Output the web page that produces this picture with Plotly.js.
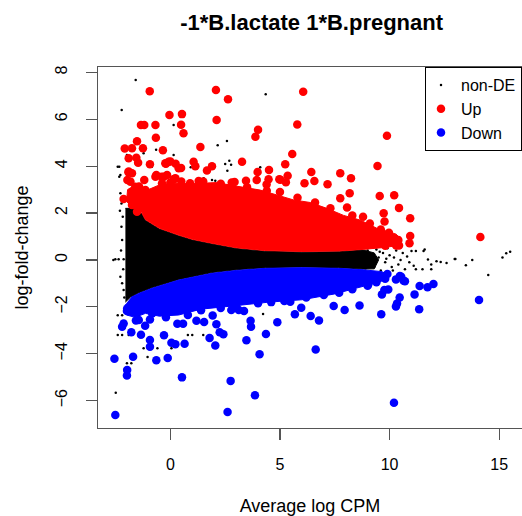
<!DOCTYPE html>
<html>
<head>
<meta charset="utf-8">
<script src="https://cdn.plot.ly/plotly-3.0.1.min.js"></script>
<style>
  html, body { margin: 0; padding: 0; background: #fff; }
  #chart { width: 522px; height: 516px; }
</style>
</head>
<body>
<div id="chart"></div>
<script>
// MA plot (edgeR plotSmear 스타일): x = Average log CPM, y = log-fold-change.
const C = { up: '#ff0000', down: '#0000ff', nonDE: '#000000', axis: '#555555', text: '#000000' };
const FONT = '"Liberation Sans", Arial, sans-serif';

// 값은 그림에서 읽은 추정치. 밀집 구름은 외곽선(core) 폴리곤, 나머지는 개별 점.
// non-DE core 는 Up/Down core 사이 띠만 (fill 레이어 순서에 의존하지 않도록 겹치지 않게).
const nonDeCoreX = [-2.05, -1.6, -1.3, -1.14, -0.5, 0.38, 1.0, 1.9, 3.0, 4.3, 6.0, 7.7, 8.8, 9.3, 9.5,
  9.3, 8.8, 7.68, 6.0, 4.33, 3.0, 1.9, 0.38, -0.83, -1.44, -1.8, -2.05];
const nonDeCoreY = [2.2, 2.2, 1.97, 1.69, 1.32, 1.03, 0.85, 0.68, 0.49, 0.37, 0.33, 0.35, 0.42, 0.3, 0.0,
  -0.38, -0.39, -0.33, -0.30, -0.33, -0.42, -0.54, -0.83, -1.18, -1.40, -1.57, -1.8];

const nonDeX = [-1.58, -2.22, 4.35, 0.15, 2.58, 2.16, -0.65, 0.15, 2.5, 2.69, 2.77, 2.6, 4.1, 1.52, 1.9, 2.05, 1.19, 0.93,
  -2.4, -2.33, -2.28, -2.23, -1.98, -1.22, -0.84, -2.33, -2.28, -1.97,
  -2.51, -2.36, -2.13, -1.97, -2.6, -2.28, -2.2, -2.13, -2.2, -2.23, -2.17, -2.25, -2.15, -2.3, -2.1,
  -2.49, -2.4, -2.2, -1.6, -1.45, -2.4, -2.2, -1.9, 0.8, 1.0, 1.5, -1.22, -0.59, 0.05, -1.04, -1.98, -1.78, 4.23,
  9.0, 9.2, 9.4, 9.5, 9.7, 9.8, 9.9, 10.0, 10.1, 10.2, 10.3, 10.4, 10.5, 10.6, 10.7, 10.8, 10.9, 11.0, 11.1, 11.2,
  11.2, 11.5, 11.55, 11.75, 11.9, 11.9, 12.14, 12.33, 12.6, 12.97, 13.48, 13.77, 14.5, 15.15, 15.32, 15.5,
  9.3, 9.6, 10.0, 10.4, 11.6, 13.0, 8.9, 9.1, 9.35, 9.55, 9.85, 10.15];
const nonDeY = [7.68, 6.40, 7.07, 5.76, 5.07, 4.89, 4.7, 4.48, 4.09, 4.23, 4.06, 3.8, 3.95, 3.48, 3.41, 3.38, 3.01, 3.95,
  3.98, 3.55, 2.84, 2.41, 4.48, 4.55, 3.98, 3.98, 3.62, 4.26,
  0.03, 0.03, 0.03, 0.03, 0.0, -0.72, -1.0, -1.28, 0.85, 1.42, 1.84, 0.4, -0.4, 2.1, -1.6,
  -5.67, -2.36, -2.36, -2.36, -2.36, -3.2, -3.2, -3.2, -3.2, -3.2, -3.2, -3.77, -3.77, -3.77, -4.14, -4.41, -4.41, -2.31,
  0.4, 0.25, 0.45, 0.1, 0.3, -0.1, 0.5, 0.2, -0.3, 0.1, 0.4, -0.2, 0.0, 0.3, -0.4, 0.15, -0.1, 0.38, -0.25, 0.38,
  -0.4, -0.4, 0.38, 0.02, -0.2, -0.4, -0.06, -0.09, -0.13, 0.04, -0.23, 0.0, -0.64, 0.1, 0.28, 0.35,
  -0.3, -0.45, -0.55, 0.6, 0.44, 0.04, -0.35, 0.1, -0.15, 0.35, 0.05, -0.45];

const upCoreX = [-1.3, -1.14, -0.5, 0.38, 1.0, 1.9, 3.0, 4.3, 6.0, 7.7, 8.8, 9.65, 10.3, 10.55, 10.3, 9.42, 8.66, 7.9,
  7.14, 6.38, 5.62, 4.86, 4.1, 3.0, 2.1, 1.0, 0.0, -0.5, -1.0, -1.6, -1.95, -2.0, -1.7];
const upCoreY = [2.0, 1.72, 1.35, 1.06, 0.88, 0.71, 0.52, 0.40, 0.36, 0.38, 0.45, 0.52, 0.6, 0.85, 1.1, 1.35, 1.7, 1.9,
  2.2, 2.45, 2.56, 2.77, 2.98, 3.15, 3.3, 3.25, 3.27, 3.2, 3.0, 3.2, 3.0, 2.5, 2.2];

const upX = [-0.94, 2.08, 2.63, 6.06, -0.04, 0.53, -1.34, -1.19, -0.68, 0.49, 2.11, 0.60, -0.66, -1.52, 4.0, 3.88, 5.79, 9.88,
  -2.08, -1.75, -1.25, -0.34, 1.37, 5.56, 3.27, 5.24, 9.45, -1.55, -1.47, -0.93, -1.9, -1.9, -0.08, 0.38, 1.06, 1.14,
  1.9, 1.67, 0.24, 0.0, -0.2, 0.49, 3.98, 4.5, 6.43, 7.75, 8.24, 6.12, 6.57, 7.17, 5.35, 4.97, 4.48, 8.18, 7.75, 8.06,
  9.55, 10.21, 10.43, 9.73, 9.77, 10.94, 10.94, 10.91, 10.43, 9.97, 14.14, 8.79, 0.15, 0.91, 1.29, -0.3, -0.23,
  -2.13, -1.96, -1.91, 0.18, -0.64, -0.40, 0.9, 2.93, 3.45, 3.94, 4.39, 5.02, 5.27, -1.19, -1.43, -1.6, -1.44, -1.14,
  -0.68, -0.38, -0.15, 0.23, -1.75, -1.82, -1.29, -1.75, -1.52,
  0.0, 0.5, 1.5, 2.3, 2.8, 3.5, 4.4, 5.0, 5.8, 6.6, 7.3, 8.3, 9.1, 9.6, 10.0, 10.4, 10.3, 9.8];
const upY = [7.20, 7.25, 6.85, 7.17, 6.18, 6.22, 5.76, 5.76, 5.76, 5.77, 5.97, 5.40, 5.21, 5.06, 5.55, 5.25, 5.78, 5.30,
  4.75, 4.76, 4.76, 4.68, 4.82, 4.52, 4.19, 4.08, 4.01, 4.36, 4.15, 4.08, 4.34, 3.77, 4.19, 3.91, 4.19, 4.0,
  4.0, 3.81, 4.1, 4.2, 4.1, 3.92, 3.75, 3.84, 3.75, 3.70, 3.48, 3.27, 3.37, 3.23, 3.59, 3.44, 3.44, 2.84, 2.63, 2.24,
  2.73, 2.76, 2.22, 1.99, 1.64, 1.78, 1.02, 0.71, 0.62, 1.16, 0.98, 1.84, 3.44, 3.2, 3.37, 3.55, 4.12,
  2.6, 3.41, 3.74, 3.45, 3.62, 3.55, 3.27, 3.32, 3.38, 3.41, 3.22, 3.42, 3.31, 3.41, 3.13, 3.12, 2.56, 2.98,
  3.55, 3.27, 3.62, 3.48, 3.7, 3.34, 2.84, 2.34, 2.06,
  3.3, 3.35, 3.35, 3.25, 3.3, 3.1, 2.95, 2.9, 2.65, 2.45, 2.2, 1.9, 1.55, 1.3, 1.0, 0.85, 0.62, 0.6];

const downCoreX = [-1.8, -1.44, -0.83, 0.38, 1.9, 3.0, 4.33, 6.0, 7.68, 8.8, 9.65, 9.95, 9.8, 9.5, 8.5, 7.5, 6.0, 4.5,
  3.0, 1.4, 0.38, -0.5, -1.14, -1.6, -2.0, -2.05];
const downCoreY = [-1.6, -1.43, -1.21, -0.86, -0.57, -0.45, -0.36, -0.33, -0.36, -0.42, -0.5, -0.65, -0.85, -0.95, -1.2,
  -1.45, -1.7, -1.8, -1.95, -2.1, -2.35, -2.4, -2.28, -2.45, -2.35, -1.9];

const downX = [-2.51, 2.61, 10.2, 3.86, 2.75, 0.53, -1.98, -1.97, -2.55, -1.70, -0.64, -0.12, 4.07, 6.63, -0.93, -0.93,
  -1.34, -0.29, 0.05, 0.23, 0.65, 1.79, 2.05, 2.25, 2.42, 3.47, 4.36, 4.88, 3.66, 3.68, -2.2, -1.78, -1.15, 2.1,
  1.19, 1.54, 0.58, 0.32, 1.93, -1.57, -1.46, -1.98, -0.93, 3.12, 3.36, 2.78, 5.47, 5.97, 5.68, 6.40, 6.78, 7.45,
  7.95, 8.63, 9.62, 11.35, 10.29, 10.34, 10.46, 11.14, 14.08, 11.37, 11.73, 12.0, 10.70, 10.29, 10.47, 10.53, 10.64,
  9.94, 9.65, 9.76, 9.03, 9.57, -1.97, -1.6, -1.29, -2.13, -1.44, -0.83,
  -0.2, 0.8, 1.4, 2.3, 3.0, 4.0, 4.6, 5.2, 6.2, 7.0, 7.7, 8.3, 9.0, 9.4, 9.8, 9.9];
const downY = [-6.62, -6.49, -6.09, -5.77, -5.16, -5.01, -4.93, -4.70, -4.22, -4.13, -4.28, -4.18, -4.02, -3.82, -3.70, -3.42,
  -3.19, -3.21, -3.53, -3.60, -3.58, -3.33, -3.65, -3.09, -3.17, -3.43, -3.16, -2.66, -2.59, -2.85, -2.85, -3.09, -2.81, -2.74,
  -2.59, -2.65, -2.72, -2.72, -2.37, -2.58, -2.11, -2.18, -2.54, -2.14, -2.18, -2.14, -1.78, -2.04, -2.32, -2.39, -2.58, -1.97,
  -2.14, -1.94, -2.32, -2.10, -1.99, -1.86, -1.6, -1.47, -1.71, -1.11, -1.17, -1.03, -0.91, -0.83, -0.69, -0.72, -0.89,
  -1.26, -1.47, -1.28, -1.04, -0.69, -2.07, -1.71, -1.57, -2.71, -2.56, -2.28,
  -2.45, -2.35, -2.15, -2.05, -1.95, -1.85, -1.8, -1.75, -1.6, -1.5, -1.4, -1.25, -1.1, -0.95, -0.8, -0.6];

const coreTrace = (x, y, color) => ({
  x, y, type: 'scatter', mode: 'lines', fill: 'toself', fillcolor: color,
  line: { color, width: 1, simplify: false }, showlegend: false, hoverinfo: 'skip',
});
const pointTrace = (x, y, name, color, size) => ({
  x, y, name, type: 'scatter', mode: 'markers',
  marker: { color, size, line: { width: 0 } }, hoverinfo: 'skip',
});

const traces = [
  coreTrace(nonDeCoreX, nonDeCoreY, C.nonDE),
  pointTrace(nonDeX, nonDeY, 'non-DE', C.nonDE, 2.5),
  coreTrace(upCoreX, upCoreY, C.up),
  pointTrace(upX, upY, 'Up', C.up, 8.5),
  coreTrace(downCoreX, downCoreY, C.down),
  pointTrace(downX, downY, 'Down', C.down, 8.5),
];

const axisBase = {
  showline: true, mirror: true, linecolor: C.axis, linewidth: 1.3,
  ticks: 'outside', ticklen: 11, tickwidth: 1.3, tickcolor: C.axis,
  showgrid: false, zeroline: false,
  tickfont: { family: FONT, size: 16, color: C.text },
};

const layout = {
  width: 522, height: 516,
  paper_bgcolor: '#fff', plot_bgcolor: '#fff',
  margin: { l: 98, r: 0, t: 67, b: 88 },
  font: { family: FONT, color: C.text },
  title: { text: '-1*B.lactate 1*B.pregnant', font: { family: FONT, size: 22, weight: 'bold', color: C.text },
    xref: 'container', x: 0.597, yref: 'container', y: 0.956, xanchor: 'center', yanchor: 'middle' },
  xaxis: { ...axisBase, range: [-3.30, 16.04], tickmode: 'linear', tick0: 0, dtick: 5, ticklabelstandoff: 10,
    title: { text: 'Average log CPM', font: { family: FONT, size: 18 }, standoff: 32 } },
  yaxis: { ...axisBase, range: [-7.17, 8.23], tickmode: 'linear', tick0: 0, dtick: 2, tickangle: -90, ticklabelstandoff: 12,
    title: { text: 'log-fold-change', font: { family: FONT, size: 18 }, standoff: 20 } },
  legend: { x: 1, xanchor: 'right', y: 1, yanchor: 'top', bgcolor: '#fff', bordercolor: '#000', borderwidth: 1,
    font: { family: FONT, size: 16, color: C.text }, itemwidth: 30, indentation: -5 },
  showlegend: true,
};

Plotly.newPlot('chart', traces, layout, { displayModeBar: false, staticPlot: true });
</script>
</body>
</html>
